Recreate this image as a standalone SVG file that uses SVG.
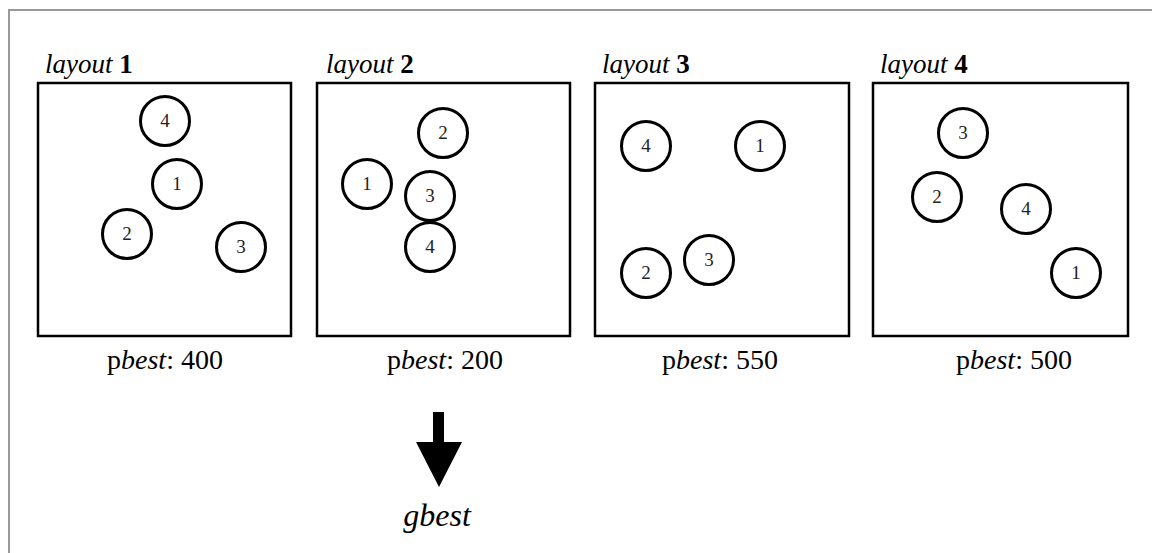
<svg xmlns="http://www.w3.org/2000/svg" width="1152" height="553" viewBox="0 0 1152 553">
<style>
.frame{fill:none;stroke:#999;stroke-width:2}
.box{fill:#fff;stroke:#000;stroke-width:2.5}
.c{fill:#fff;stroke:#000;stroke-width:3}
text{font-family:'Liberation Serif','Times New Roman',Times,'DejaVu Serif',serif}
.n{font-size:19px;fill:#222;text-anchor:middle}
.lt{font-size:27px;fill:#000}
.pb{font-size:28px;fill:#000;text-anchor:middle}
.gb{font-size:32px;font-style:italic;fill:#000;text-anchor:middle}
</style>
<rect width="1152" height="553" fill="#fff"/>
<rect class="frame" x="9" y="10" width="1170" height="570"/>
<g id="layout1">
<text class="lt" x="45" y="73"><tspan font-style="italic">layout</tspan> <tspan font-weight="bold">1</tspan></text>
<rect class="box" x="38" y="83" width="253" height="253"/>
<circle class="c" cx="165" cy="121" r="24.5"/><text class="n" x="165" y="127">4</text>
<circle class="c" cx="177" cy="184" r="24.5"/><text class="n" x="177" y="190">1</text>
<circle class="c" cx="127" cy="234" r="24.5"/><text class="n" x="127" y="240">2</text>
<circle class="c" cx="241" cy="247" r="24.5"/><text class="n" x="241" y="253">3</text>
<text class="pb" x="165" y="369">p<tspan font-style="italic">best</tspan>: 400</text>
</g>
<g id="layout2">
<text class="lt" x="326" y="73"><tspan font-style="italic">layout</tspan> <tspan font-weight="bold">2</tspan></text>
<rect class="box" x="317" y="83" width="253" height="253"/>
<circle class="c" cx="443" cy="133" r="24.5"/><text class="n" x="443" y="139">2</text>
<circle class="c" cx="367" cy="184" r="24.5"/><text class="n" x="367" y="190">1</text>
<circle class="c" cx="430" cy="196" r="24.5"/><text class="n" x="430" y="202">3</text>
<circle class="c" cx="430" cy="247" r="24.5"/><text class="n" x="430" y="253">4</text>
<text class="pb" x="445" y="369">p<tspan font-style="italic">best</tspan>: 200</text>
</g>
<g id="layout3">
<text class="lt" x="602" y="73"><tspan font-style="italic">layout</tspan> <tspan font-weight="bold">3</tspan></text>
<rect class="box" x="595" y="83" width="254" height="253"/>
<circle class="c" cx="646" cy="146" r="24.5"/><text class="n" x="646" y="152">4</text>
<circle class="c" cx="760" cy="146" r="24.5"/><text class="n" x="760" y="152">1</text>
<circle class="c" cx="646" cy="273" r="24.5"/><text class="n" x="646" y="279">2</text>
<circle class="c" cx="709" cy="260" r="24.5"/><text class="n" x="709" y="266">3</text>
<text class="pb" x="720" y="369">p<tspan font-style="italic">best</tspan>: 550</text>
</g>
<g id="layout4">
<text class="lt" x="880" y="73"><tspan font-style="italic">layout</tspan> <tspan font-weight="bold">4</tspan></text>
<rect class="box" x="873" y="83" width="255" height="253"/>
<circle class="c" cx="963" cy="133" r="24.5"/><text class="n" x="963" y="139">3</text>
<circle class="c" cx="937" cy="197" r="24.5"/><text class="n" x="937" y="203">2</text>
<circle class="c" cx="1026" cy="209" r="24.5"/><text class="n" x="1026" y="215">4</text>
<circle class="c" cx="1076" cy="273" r="24.5"/><text class="n" x="1076" y="279">1</text>
<text class="pb" x="1014" y="369">p<tspan font-style="italic">best</tspan>: 500</text>
</g>
<g id="connectors">
<polygon points="433,412 444,412 444,442 462,442 439,487 416,442 433,442" fill="#000"/>
</g>
<g id="gbest">
<text class="gb" x="437" y="526">gbest</text>
</g>
</svg>
